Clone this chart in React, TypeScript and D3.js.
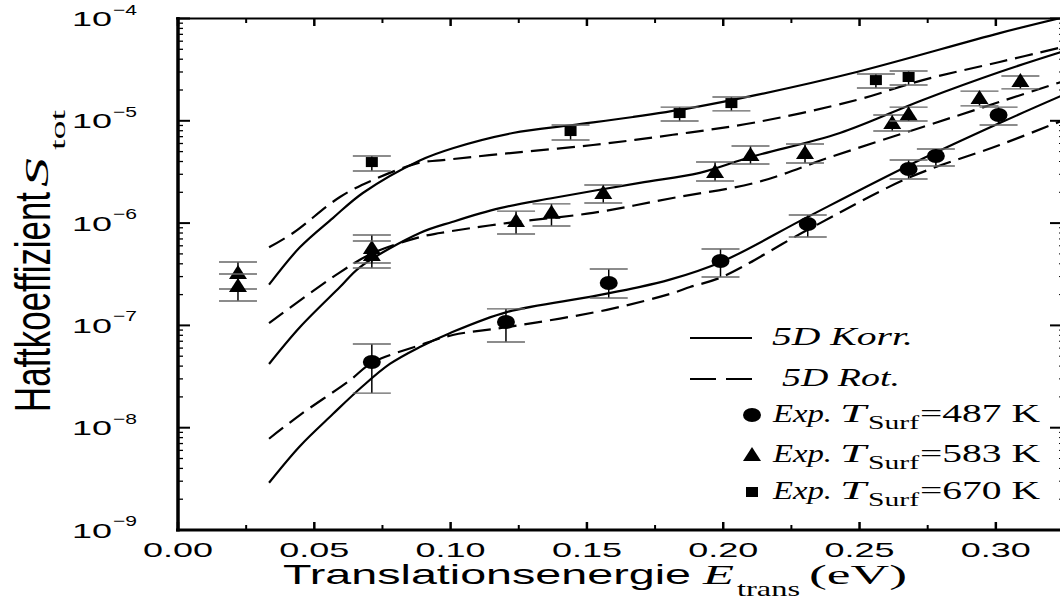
import React from 'react';
import * as d3 from 'd3';

// ---- data (E in eV, S dimensionless) ----
const korr487E = [0.0334, 0.0447, 0.0568, 0.0674, 0.0777, 0.0887, 0.0997, 0.1206, 0.1511, 0.1669, 0.1804, 0.1995, 0.2310, 0.2684, 0.3014, 0.325];
const korr487S = [2.9e-9, 6.6e-9, 1.36e-8, 2.5e-8, 4.2e-8, 6.15e-8, 8.4e-8, 1.35e-7, 1.9e-7, 2.3e-7, 2.8e-7, 4.2e-7, 1.15e-6, 3.7e-6, 9.5e-6, 1.8e-5];
const rot487E = [0.0334, 0.0447, 0.0630, 0.0711, 0.0887, 0.1008, 0.1206, 0.1573, 0.1815, 0.1878, 0.1995, 0.2310, 0.2684, 0.3014, 0.325];
const rot487S = [7.8e-9, 1.33e-8, 2.9e-8, 4.3e-8, 6.4e-8, 8.05e-8, 9.6e-8, 1.42e-7, 2.07e-7, 2.37e-7, 2.97e-7, 8.6e-7, 2.8e-6, 5.8e-6, 1.02e-5];

const korr583E = [0.0334, 0.0447, 0.0594, 0.0667, 0.0887, 0.1008, 0.1181, 0.1375, 0.1694, 0.1914, 0.2098, 0.2428, 0.2732, 0.3014, 0.325];
const korr583S = [4.2e-8, 9.6e-8, 2.37e-7, 3.7e-7, 8.0e-7, 1.03e-6, 1.4e-6, 1.76e-6, 2.47e-6, 3.1e-6, 4.4e-6, 7.6e-6, 1.6e-5, 3.0e-5, 4.8e-5];
const rot583E = [0.0334, 0.0594, 0.0715, 0.0887, 0.0961, 0.1206, 0.1522, 0.1815, 0.2123, 0.2391, 0.2732, 0.3014, 0.325];
const rot583S = [1.05e-7, 3.3e-7, 5.1e-7, 7.3e-7, 8.0e-7, 1.0e-6, 1.26e-6, 1.76e-6, 2.5e-6, 4.4e-6, 8.7e-6, 1.53e-5, 2.45e-5];

const korr670E = [0.0334, 0.0447, 0.0568, 0.0678, 0.0887, 0.1008, 0.1228, 0.1448, 0.1669, 0.1878, 0.2123, 0.2490, 0.3014, 0.325];
const korr670S = [2.5e-7, 5.8e-7, 1.12e-6, 1.97e-6, 4.1e-6, 5.4e-6, 7.6e-6, 9.1e-6, 1.09e-5, 1.33e-5, 1.79e-5, 3.0e-5, 7.2e-5, 1.03e-4];
const rot670E = [0.0334, 0.0422, 0.0594, 0.0715, 0.0887, 0.0961, 0.1206, 0.1522, 0.1815, 0.2123, 0.2490, 0.2732, 0.3014, 0.325];
const rot670S = [5.8e-7, 8.0e-7, 1.8e-6, 2.64e-6, 3.9e-6, 4.1e-6, 4.8e-6, 5.8e-6, 7.3e-6, 9.7e-6, 1.6e-5, 2.5e-5, 3.76e-5, 5.3e-5];

// experimental points with error bars
const exp487E = [0.0711, 0.1203, 0.158, 0.199, 0.231, 0.268, 0.278, 0.301];
const exp487S = [4.39e-8, 1.08e-7, 2.6e-7, 4.26e-7, 9.8e-7, 3.38e-6, 4.53e-6, 1.14e-5];
const exp487Lo = [2.18e-8, 6.88e-8, 1.85e-7, 2.97e-7, 7.31e-7, 2.7e-6, 3.61e-6, 9.1e-6];
const exp487Hi = [6.58e-8, 1.45e-7, 3.56e-7, 5.58e-7, 1.2e-6, 4.14e-6, 5.3e-6, 1.36e-5];

const exp583E = [0.022, 0.022, 0.0711, 0.0711, 0.124, 0.137, 0.156, 0.197, 0.210, 0.230, 0.262, 0.268, 0.294, 0.309];
const exp583S = [3.25e-7, 2.43e-7, 5.71e-7, 4.88e-7, 1.05e-6, 1.26e-6, 1.97e-6, 3.16e-6, 4.63e-6, 4.84e-6, 9.5e-6, 1.16e-5, 1.67e-5, 2.45e-5];
const exp583Lo = [2.27e-7, 1.73e-7, 4.07e-7, 3.64e-7, 7.82e-7, 9.37e-7, 1.57e-6, 2.58e-6, 3.78e-6, 3.87e-6, 7.94e-6, 9.96e-6, 1.4e-5, 2.05e-5];
const exp583Hi = [4.17e-7, 3.18e-7, 7.65e-7, 6.68e-7, 1.31e-6, 1.54e-6, 2.36e-6, 3.95e-6, 5.67e-6, 5.93e-6, 1.14e-5, 1.36e-5, 1.95e-5, 2.74e-5];

const exp670E = [0.0711, 0.144, 0.184, 0.203, 0.256, 0.268];
const exp670S = [3.95e-6, 7.94e-6, 1.19e-5, 1.49e-5, 2.5e-5, 2.68e-5];
const exp670Lo = [3.23e-6, 6.49e-6, 9.96e-6, 1.25e-5, 2.09e-5, 2.24e-5];
const exp670Hi = [4.53e-6, 9.1e-6, 1.36e-5, 1.71e-5, 2.87e-5, 3.07e-5];

const xMajorTicks = [0, 0.05, 0.1, 0.15, 0.2, 0.25, 0.3];
const xMinorTicks = [0.025, 0.075, 0.125, 0.175, 0.225, 0.275];
const xTickLabels = ['0.00', '0.05', '0.10', '0.15', '0.20', '0.25', '0.30'];
const yDecades = [1e-9, 1e-8, 1e-7, 1e-6, 1e-5, 1e-4];
const yExponents = ['−9', '−8', '−7', '−6', '−5', '−4'];

const legendTemps = ['487 K', '583 K', '670 K'];

const SANS = 'Liberation Sans, Arial, Helvetica, sans-serif';
const SERIF = 'Liberation Serif, Times New Roman, serif';

const W = 1060;
const H = 601;
const RIGHT = 1062;
const x = d3.scaleLinear().domain([0, 0.325]).range([178, 1064]);
const y = d3.scaleLog().domain([1e-9, 1e-4]).range([530, 18.5]);

const zip = (es: number[], ss: number[]) => es.map((e, i) => [e, ss[i]] as [number, number]);

const line = d3.line<[number, number]>()
    .x(d => x(d[0]))
    .y(d => y(d[1]))
    .curve(d3.curveCatmullRom.alpha(0.5));

function Marker({ kind, cx, cy }: { kind: string; cx: number; cy: number }) {
    if (kind === 'circle') return <ellipse cx={cx} cy={cy} rx={9} ry={7} fill="#000" />;
    if (kind === 'tri') return <path d={`M${cx},${cy - 8}L${cx + 9},${cy + 6}L${cx - 9},${cy + 6}Z`} fill="#000" />;
    return <rect x={cx - 6} y={cy - 5} width={12} height={10} fill="#000" />;
}

function ErrSeries({ es, ss, lo, hi, kind }: { es: number[]; ss: number[]; lo: number[]; hi: number[]; kind: string }) {
    return (
        <g>
            {es.map((e, i) => {
                const cx = x(e);
                return (
                    <g key={i}>
                        <line x1={cx} x2={cx} y1={y(lo[i])} y2={y(hi[i])} stroke="#000" strokeWidth={1.5} />
                        <line x1={cx - 19} x2={cx + 19} y1={y(lo[i])} y2={y(lo[i])} stroke="#666" strokeWidth={1.4} />
                        <line x1={cx - 19} x2={cx + 19} y1={y(hi[i])} y2={y(hi[i])} stroke="#666" strokeWidth={1.4} />
                        <Marker kind={kind} cx={cx} cy={y(ss[i])} />
                    </g>
                );
            })}
        </g>
    );
}

export default function App() {
    const solids = [zip(korr487E, korr487S), zip(korr583E, korr583S), zip(korr670E, korr670S)];
    const dashes = [zip(rot487E, rot487S), zip(rot583E, rot583S), zip(rot670E, rot670S)];
    const allYTicks = y.ticks();
    const isDecade = (v: number) => Math.abs(Math.log10(v) - Math.round(Math.log10(v))) < 1e-6;

    const legendKinds = ['circle', 'tri', 'square'];
    const legendY = [415, 455, 492];

    return (
        <svg width={W} height={H} style={{ position: 'absolute', left: 0, top: 0, background: '#fff' }}>
            <defs>
                <clipPath id="plotclip">
                    <rect x={178} y={18.5} width={RIGHT - 178} height={530 - 18.5} />
                </clipPath>
            </defs>

            {/* curves */}
            <g clipPath="url(#plotclip)" fill="none" stroke="#000" strokeWidth={2.2}>
                {solids.map((d, i) => <path key={'s' + i} d={line(d) || ''} />)}
                {dashes.map((d, i) => <path key={'d' + i} d={line(d) || ''} strokeDasharray="18,8" />)}
            </g>

            {/* experiment */}
            <ErrSeries es={exp487E} ss={exp487S} lo={exp487Lo} hi={exp487Hi} kind="circle" />
            <ErrSeries es={exp583E} ss={exp583S} lo={exp583Lo} hi={exp583Hi} kind="tri" />
            <ErrSeries es={exp670E} ss={exp670S} lo={exp670Lo} hi={exp670Hi} kind="square" />

            {/* frame */}
            <line x1={178} x2={178} y1={17} y2={531.5} stroke="#000" strokeWidth={3.5} />
            <line x1={176} x2={RIGHT + 2} y1={530} y2={530} stroke="#000" strokeWidth={3} />
            <line x1={176} x2={RIGHT + 2} y1={18.5} y2={18.5} stroke="#000" strokeWidth={2.2} />

            {/* x ticks */}
            {xMajorTicks.map((t, i) => (
                <g key={'xm' + i}>
                    <line x1={x(t)} x2={x(t)} y1={530} y2={522} stroke="#000" strokeWidth={2.5} />
                    <line x1={x(t)} x2={x(t)} y1={18.5} y2={26} stroke="#000" strokeWidth={2.5} />
                    <text x={x(t) - 35} y={557} fontFamily={SANS} fontSize={21} textLength={70} lengthAdjust="spacingAndGlyphs">{xTickLabels[i]}</text>
                </g>
            ))}
            {xMinorTicks.map((t, i) => (
                <g key={'xn' + i}>
                    <line x1={x(t)} x2={x(t)} y1={530} y2={525} stroke="#000" strokeWidth={2} />
                    <line x1={x(t)} x2={x(t)} y1={18.5} y2={23} stroke="#000" strokeWidth={2} />
                </g>
            ))}

            {/* y ticks */}
            {allYTicks.map((t, i) => {
                const major = isDecade(t);
                const yy = y(t);
                return (
                    <g key={'yt' + i}>
                        <line x1={178} x2={178 + (major ? 12 : 5)} y1={yy} y2={yy} stroke="#000" strokeWidth={major ? 2 : 1.3} />
                        <line x1={RIGHT} x2={RIGHT - (major ? 12 : 3)} y1={yy} y2={yy} stroke="#000" strokeWidth={major ? 2 : 1} />
                    </g>
                );
            })}
            {yDecades.map((v, i) => (
                <g key={'yl' + i}>
                    <text x={72} y={y(v) + 7.5} fontFamily={SANS} fontSize={21} textLength={40} lengthAdjust="spacingAndGlyphs">10</text>
                    <text x={113} y={y(v) - 4} fontFamily={SANS} fontSize={15} textLength={24} lengthAdjust="spacingAndGlyphs">{yExponents[i]}</text>
                </g>
            ))}

            {/* axis titles */}
            <text x={283} y={584} fontFamily={SANS} fontSize={28} textLength={408} lengthAdjust="spacingAndGlyphs">Translationsenergie</text>
            <text x={703} y={584} fontFamily={SERIF} fontStyle="italic" fontSize={28} textLength={31} lengthAdjust="spacingAndGlyphs">E</text>
            <text x={737} y={596} fontFamily={SERIF} fontSize={21} textLength={63} lengthAdjust="spacingAndGlyphs">trans</text>
            <text x={809} y={584} fontFamily={SERIF} fontSize={28} textLength={98} lengthAdjust="spacingAndGlyphs">(eV)</text>

            <text transform="translate(50,412) rotate(-90)" fontFamily={SANS} fontSize={50} textLength={220} lengthAdjust="spacingAndGlyphs">Haftkoeffizient</text>
            <text transform="translate(48,187) rotate(-90)" fontFamily={SERIF} fontStyle="italic" fontSize={34} textLength={29} lengthAdjust="spacingAndGlyphs">S</text>
            <text transform="translate(65,150) rotate(-90)" fontFamily={SERIF} fontSize={22} textLength={40} lengthAdjust="spacingAndGlyphs">tot</text>

            {/* legend */}
            <line x1={690} x2={752} y1={338} y2={338} stroke="#000" strokeWidth={2} />
            <text x={772} y={345} fontFamily={SERIF} fontStyle="italic" fontSize={25} textLength={141} lengthAdjust="spacingAndGlyphs">5D Korr.</text>
            <line x1={690} x2={752} y1={379} y2={379} stroke="#000" strokeWidth={2} strokeDasharray="26,10" />
            <text x={782} y={386} fontFamily={SERIF} fontStyle="italic" fontSize={25} textLength={118} lengthAdjust="spacingAndGlyphs">5D Rot.</text>
            {legendTemps.map((tmp, i) => {
                const ly = legendY[i];
                return (
                    <g key={'lg' + i}>
                        <Marker kind={legendKinds[i]} cx={752} cy={ly} />
                        <text x={773} y={ly + 7} fontFamily={SERIF} fontStyle="italic" fontSize={25} textLength={59} lengthAdjust="spacingAndGlyphs">Exp.</text>
                        <text x={840} y={ly + 7} fontFamily={SERIF} fontStyle="italic" fontSize={25} textLength={26} lengthAdjust="spacingAndGlyphs">T</text>
                        <text x={868} y={ly + 14} fontFamily={SERIF} fontSize={18} textLength={51} lengthAdjust="spacingAndGlyphs">Surf</text>
                        <text x={920} y={ly + 7} fontFamily={SERIF} fontSize={25} textLength={120} lengthAdjust="spacingAndGlyphs">{'=' + tmp}</text>
                    </g>
                );
            })}
        </svg>
    );
}
